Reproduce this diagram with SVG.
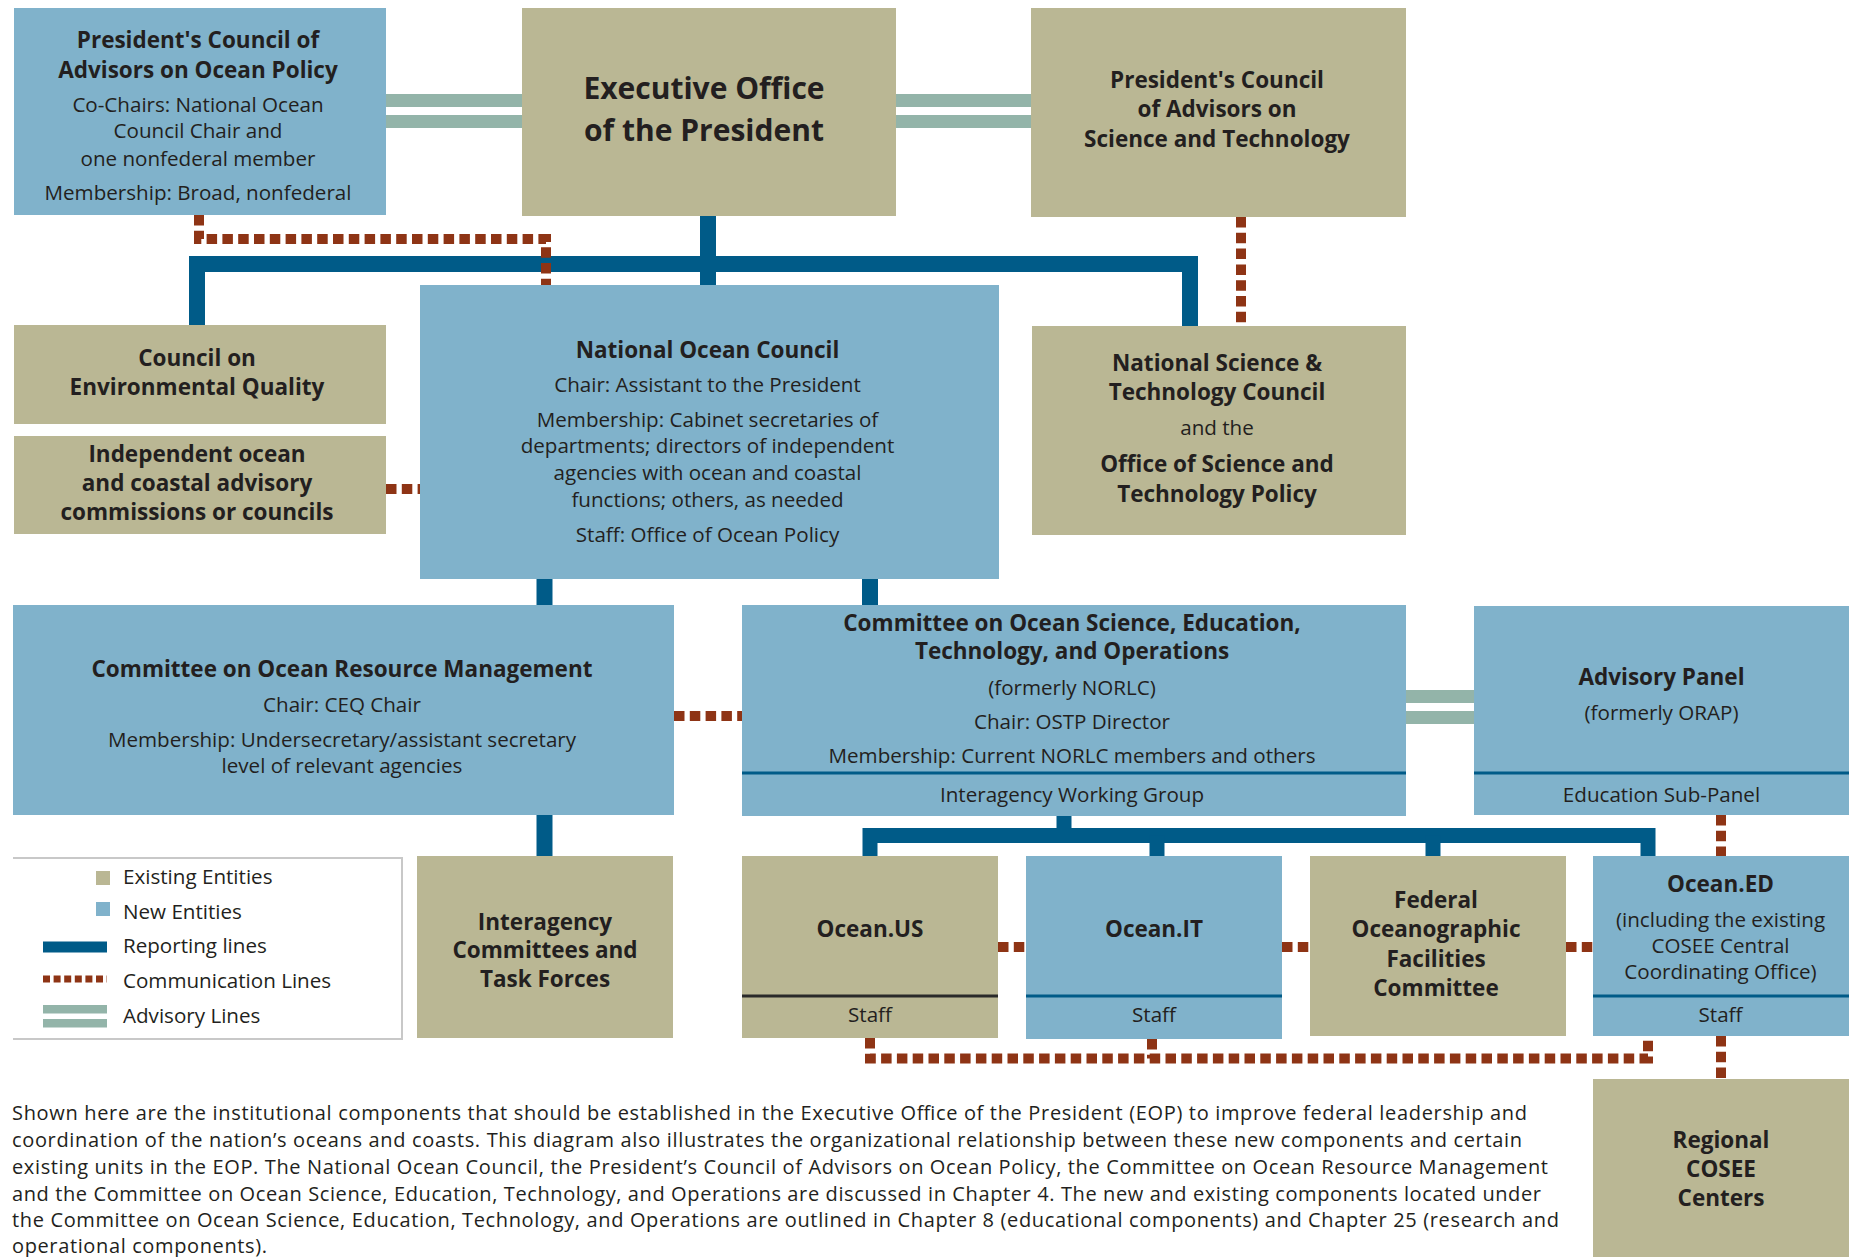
<svg xmlns="http://www.w3.org/2000/svg" width="1860" height="1257" viewBox="0 0 1860 1257">
<style>
.ex{fill:#bab794}
.nw{fill:#80b2cb}
.t{font-family:"Open Sans","Noto Sans",sans-serif;fill:#231f20;text-anchor:middle}
.b{font-weight:700;font-size:22.5px}
.r{font-size:20.6px}
.rep{fill:none;stroke:#005b88;stroke-width:16;stroke-linejoin:miter;stroke-linecap:butt}
.com{fill:none;stroke:#8e3415;stroke-width:10;stroke-dasharray:10.5 5.3}
.adv{fill:#93b4a9}
.dv{stroke:#005b88;stroke-width:3}
.cap{font-family:"Open Sans","Noto Sans",sans-serif;fill:#231f20;font-size:20px}
.lg{font-family:"Open Sans","Noto Sans",sans-serif;fill:#231f20;font-size:20.6px}
</style>
<rect width="1860" height="1257" fill="#ffffff"/>

<g id="advisory-lines">
<rect class="adv" x="386" y="94" width="136" height="13"/>
<rect class="adv" x="386" y="115" width="136" height="13"/>
<rect class="adv" x="896" y="94" width="135" height="13"/>
<rect class="adv" x="896" y="115" width="135" height="13"/>
<rect class="adv" x="1406" y="690" width="68" height="13"/>
<rect class="adv" x="1406" y="711" width="68" height="13"/>
</g>

<g id="connectors">
<path class="rep" d="M197,325 V264 H1190 V326"/>
<path class="rep" d="M708,216 V285"/>
<path class="rep" d="M544.5,579 V605"/>
<path class="rep" d="M544.5,815 V856"/>
<path class="rep" d="M870,579 V605"/>
<path class="rep" d="M1064,816 V835.5" style="stroke-width:15"/>
<path class="rep" d="M870,856 V835.5 H1648 V856" style="stroke-width:15"/>
<path class="rep" d="M1157,835.5 V856" style="stroke-width:15"/>
<path class="rep" d="M1433,835.5 V856" style="stroke-width:15"/>

<path class="com" d="M199,215 V239 H546 V285"/>
<path class="com" d="M1241,217 V326"/>
<path class="com" d="M386,489 H420"/>
<path class="com" d="M674,716 H742"/>
<path class="com" d="M998,947 H1026"/>
<path class="com" d="M1282,947 H1310"/>
<path class="com" d="M1566,947 H1593"/>
<path class="com" d="M870,1038 V1058.5 H1648 V1036"/>
<path class="com" d="M1152,1039 V1058.5"/>
<path class="com" d="M1721,815 V856"/>
<path class="com" d="M1721,1036 V1079"/>
</g>

<g id="pcaop">
<rect class="nw" x="14" y="8" width="372" height="207"/>
<text class="t b" x="198" y="48">President's Council of</text>
<text class="t b" x="198" y="78">Advisors on Ocean Policy</text>
<text class="t r" x="198" y="112">Co-Chairs: National Ocean</text>
<text class="t r" x="198" y="138">Council Chair and</text>
<text class="t r" x="198" y="166">one nonfederal member</text>
<text class="t r" x="198" y="200">Membership: Broad, nonfederal</text>
</g>

<g id="eop">
<rect class="ex" x="522" y="8" width="374" height="208"/>
<text class="t" style="font-weight:700;font-size:30px" x="704" y="99">Executive Office</text>
<text class="t" style="font-weight:700;font-size:30px" x="704" y="141">of the President</text>
</g>

<g id="pcast">
<rect class="ex" x="1031" y="8" width="375" height="209"/>
<text class="t b" x="1217" y="88">President's Council</text>
<text class="t b" x="1217" y="117">of Advisors on</text>
<text class="t b" x="1217" y="147">Science and Technology</text>
</g>

<g id="ceq">
<rect class="ex" x="14" y="325" width="372" height="99"/>
<text class="t b" x="197" y="366">Council on</text>
<text class="t b" x="197" y="395">Environmental Quality</text>
</g>

<g id="independent">
<rect class="ex" x="14" y="436" width="372" height="98"/>
<text class="t b" x="197" y="462">Independent ocean</text>
<text class="t b" x="197" y="491">and coastal advisory</text>
<text class="t b" x="197" y="520">commissions or councils</text>
</g>

<g id="noc">
<rect class="nw" x="420" y="285" width="579" height="294"/>
<text class="t b" x="707.5" y="358">National Ocean Council</text>
<text class="t r" x="707.5" y="392">Chair: Assistant to the President</text>
<text class="t r" x="707.5" y="427">Membership: Cabinet secretaries of</text>
<text class="t r" x="707.5" y="453">departments; directors of independent</text>
<text class="t r" x="707.5" y="480">agencies with ocean and coastal</text>
<text class="t r" x="707.5" y="507">functions; others, as needed</text>
<text class="t r" x="707.5" y="542">Staff: Office of Ocean Policy</text>
</g>

<g id="nstc">
<rect class="ex" x="1032" y="326" width="374" height="209"/>
<text class="t b" x="1217" y="371">National Science &amp;</text>
<text class="t b" x="1217" y="400">Technology Council</text>
<text class="t r" x="1217" y="435">and the</text>
<text class="t b" x="1217" y="472">Office of Science and</text>
<text class="t b" x="1217" y="502">Technology Policy</text>
</g>

<g id="corm">
<rect class="nw" x="13" y="605" width="661" height="210"/>
<text class="t b" x="342" y="677">Committee on Ocean Resource Management</text>
<text class="t r" x="342" y="712">Chair: CEQ Chair</text>
<text class="t r" x="342" y="747">Membership: Undersecretary/assistant secretary</text>
<text class="t r" x="342" y="773">level of relevant agencies</text>
</g>

<g id="coseto">
<rect class="nw" x="742" y="605" width="664" height="211"/>
<text class="t b" x="1072" y="631">Committee on Ocean Science, Education,</text>
<text class="t b" x="1072" y="659">Technology, and Operations</text>
<text class="t r" x="1072" y="695">(formerly NORLC)</text>
<text class="t r" x="1072" y="729">Chair: OSTP Director</text>
<text class="t r" x="1072" y="763">Membership: Current NORLC members and others</text>
<line class="dv" x1="742" y1="773" x2="1406" y2="773"/>
<text class="t r" x="1072" y="802">Interagency Working Group</text>
</g>

<g id="advisory-panel">
<rect class="nw" x="1474" y="606" width="375" height="209"/>
<text class="t b" x="1661.5" y="685">Advisory Panel</text>
<text class="t r" x="1661.5" y="720">(formerly ORAP)</text>
<line class="dv" x1="1474" y1="773" x2="1849" y2="773"/>
<text class="t r" x="1661.5" y="802">Education Sub-Panel</text>
</g>

<g id="interagency-committees">
<rect class="ex" x="417" y="856" width="256" height="182"/>
<text class="t b" x="545" y="930">Interagency</text>
<text class="t b" x="545" y="958">Committees and</text>
<text class="t b" x="545" y="987">Task Forces</text>
</g>

<g id="ocean-us">
<rect class="ex" x="742" y="856" width="256" height="182"/>
<text class="t b" x="870" y="937">Ocean.US</text>
<line x1="742" y1="996" x2="998" y2="996" stroke="#2a2a2a" stroke-width="3"/>
<text class="t r" x="870" y="1022">Staff</text>
</g>

<g id="ocean-it">
<rect class="nw" x="1026" y="856" width="256" height="183"/>
<text class="t b" x="1154" y="937">Ocean.IT</text>
<line class="dv" x1="1026" y1="996" x2="1282" y2="996"/>
<text class="t r" x="1154" y="1022">Staff</text>
</g>

<g id="fofc">
<rect class="ex" x="1310" y="856" width="256" height="180"/>
<text class="t b" x="1436" y="908">Federal</text>
<text class="t b" x="1436" y="937">Oceanographic</text>
<text class="t b" x="1436" y="967">Facilities</text>
<text class="t b" x="1436" y="996">Committee</text>
</g>

<g id="ocean-ed">
<rect class="nw" x="1593" y="856" width="256" height="180"/>
<text class="t b" x="1720.5" y="892">Ocean.ED</text>
<text class="t r" x="1720.5" y="927">(including the existing</text>
<text class="t r" x="1720.5" y="953">COSEE Central</text>
<text class="t r" x="1720.5" y="979">Coordinating Office)</text>
<line class="dv" x1="1593" y1="996" x2="1849" y2="996"/>
<text class="t r" x="1720.5" y="1022">Staff</text>
</g>

<g id="regional-cosee">
<rect class="ex" x="1593" y="1079" width="256" height="178"/>
<text class="t b" x="1721" y="1148">Regional</text>
<text class="t b" x="1721" y="1177">COSEE</text>
<text class="t b" x="1721" y="1206">Centers</text>
</g>

<g id="legend">
<path d="M13,858 H402 V1039 H13" fill="#ffffff" stroke="#c8c8c8" stroke-width="2"/>
<rect class="ex" x="96" y="871" width="14" height="14"/>
<text class="lg" x="123" y="884">Existing Entities</text>
<rect class="nw" x="96" y="902" width="14" height="14"/>
<text class="lg" x="123" y="919">New Entities</text>
<line x1="43" y1="947" x2="107" y2="947" stroke="#005b88" stroke-width="11"/>
<text class="lg" x="123" y="953">Reporting lines</text>
<line x1="43" y1="979" x2="107" y2="979" stroke="#8e3415" stroke-width="7" stroke-dasharray="7 3.6"/>
<text class="lg" x="123" y="988">Communication Lines</text>
<rect class="adv" x="43" y="1005" width="64" height="8.5"/>
<rect class="adv" x="43" y="1019" width="64" height="8.5"/>
<text class="lg" x="123" y="1023">Advisory Lines</text>
</g>

<g id="caption">
<text class="cap" x="12" y="1120" textLength="1515" lengthAdjust="spacing">Shown here are the institutional components that should be established in the Executive Office of the President (EOP) to improve federal leadership and</text>
<text class="cap" x="12" y="1147" textLength="1510" lengthAdjust="spacing">coordination of the nation’s oceans and coasts. This diagram also illustrates the organizational relationship between these new components and certain</text>
<text class="cap" x="12" y="1174" textLength="1536" lengthAdjust="spacing">existing units in the EOP. The National Ocean Council, the President’s Council of Advisors on Ocean Policy, the Committee on Ocean Resource Management</text>
<text class="cap" x="12" y="1201" textLength="1529" lengthAdjust="spacing">and the Committee on Ocean Science, Education, Technology, and Operations are discussed in Chapter 4. The new and existing components located under</text>
<text class="cap" x="12" y="1227" textLength="1547" lengthAdjust="spacing">the Committee on Ocean Science, Education, Technology, and Operations are outlined in Chapter 8 (educational components) and Chapter 25 (research and</text>
<text class="cap" x="12" y="1253" textLength="255" lengthAdjust="spacing">operational components).</text>
</g>
</svg>
